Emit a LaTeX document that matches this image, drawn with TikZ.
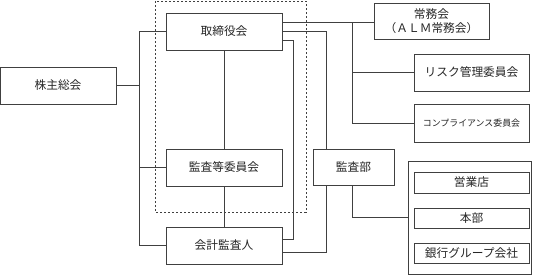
\documentclass[tikz,border=0pt]{standalone}
\usepackage{fontspec}
\newfontfamily\jp{Noto Sans CJK JP}

\tikzset{
	organ/.style={draw=black!75, line width=0.8pt, fill=white, inner sep=0pt, font=\jp\fontsize{10}{12}\selectfont, text=black!85},
	conn/.style={draw=black!75, line width=0.8pt}
}

\begin{document}
\begin{tikzpicture}[x=0.3mm, y=-0.3mm]

\useasboundingbox (0,0) rectangle (536,275);

% Linea discontinua
	\draw[black!75, line width=0.7pt, dash pattern=on 0.6mm off 0.6mm] (155,1) rectangle (306,212);

% Organos
\node[organ, minimum width=34.8mm, minimum height=11.1mm] (kabunushi) at (58,85.5) {株主総会};
\node[organ, minimum width=34.8mm, minimum height=11.1mm] (torishimari) at (224,31.5) {取締役会};
\node[organ, minimum width=34.8mm, minimum height=11.1mm] (kansatou) at (224,167.5) {監査等委員会};
\node[organ, minimum width=34.8mm, minimum height=11.1mm] (kaikei) at (224,245.5) {会計監査人};

\node[organ, minimum width=34.5mm, minimum height=10.8mm, align=center, font=\jp\fontsize{10}{11.5}\selectfont] (joumu) at (431.5,21) {常務会\\（ＡＬＭ常務会）};
\node[organ, minimum width=34.5mm, minimum height=11.1mm] (risk) at (471.5,72.5) {リスク管理委員会};
\node[organ, minimum width=34.5mm, minimum height=11.4mm, font=\jp\fontsize{7.6}{9}\selectfont] (comp) at (471.5,123) {コンプライアンス委員会};

\node[organ, minimum width=24.3mm, minimum height=10.8mm] (kansabu) at (353.5,167) {監査部};

\node[organ, minimum width=36.9mm, minimum height=33.9mm] (bumon) at (469.5,217.5) {};
\node[organ, minimum width=34.5mm, minimum height=6.3mm] (eigyo) at (471.5,182.5) {営業店};
\node[organ, minimum width=34.5mm, minimum height=6mm] (honbu) at (471.5,218) {本部};
\node[organ, minimum width=34.5mm, minimum height=6mm] (group) at (471.5,253) {銀行グループ会社};

% Ejes de las conexiones
\coordinate (trunk) at (139,0);
\coordinate (ax) at (326,0);
\coordinate (bx) at (352,0);
\coordinate (cx) at (293,0);
\coordinate (t1) at ([yshift=2.6mm]torishimari.east);
\coordinate (t3) at ([yshift=-2.8mm]torishimari.east);
\coordinate (k1) at ([yshift=1.95mm]kaikei.east);
\coordinate (k2) at ([yshift=-1.95mm]kaikei.east);

% Conexiones izquierda
	\draw[conn] (torishimari.west) -| (trunk |- kaikei.west) -- (kaikei.west);
	\draw[conn] (kabunushi.east) -- (kabunushi.east -| trunk);
	\draw[conn] (kansatou.west) -- (kansatou.west -| trunk);
	\draw[conn] (torishimari.south) -- (kansatou.north);
	\draw[conn] (kansatou.south) -- (kaikei.north);

% Conexiones derecha
	\draw[conn] (t1) -- (t1 -| joumu.west);
	\draw[conn] (bx |- t1) |- (comp.west);
	\draw[conn] (risk.west) -- (risk.west -| bx);
	\draw[conn] (torishimari.east) -| (ax |- kansabu.north);
	\draw[conn] (t3) -| (cx |- k1) -- (k1);
	\draw[conn] (ax |- kansabu.south) |- (k2);
	\draw[conn] (bx |- kansabu.south) |- (bumon.west);

\end{tikzpicture}
\end{document}
